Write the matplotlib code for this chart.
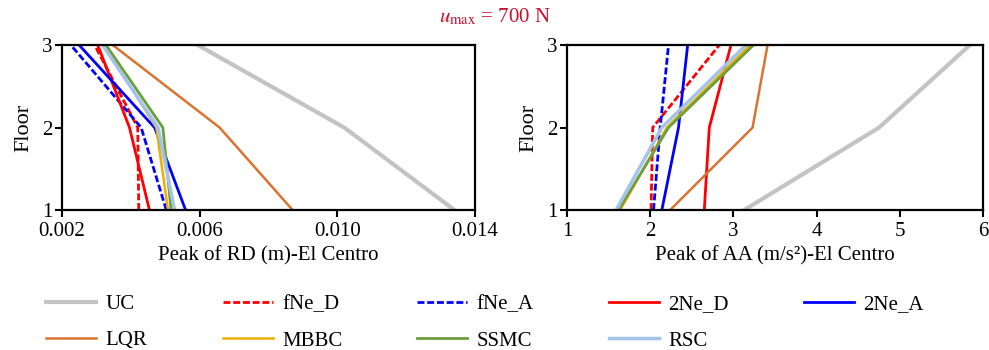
import numpy as np
import matplotlib
matplotlib.use('Agg')
import matplotlib.pyplot as plt

plt.rcParams['font.family'] = ['Liberation Serif', 'DejaVu Serif']
plt.rcParams['mathtext.fontset'] = 'stix'

floors = [1, 2, 3]
names = ['UC', 'fNe_D', 'fNe_A', '2Ne_D', '2Ne_A', 'LQR', 'MBBC', 'SSMC', 'RSC']

# peak relative displacement (m), floor 1..3
rd = {
    'UC':    [0.0134, 0.0102, 0.00595],
    'fNe_D': [0.00423, 0.0042, 0.00295],
    'fNe_A': [0.00503, 0.0043, 0.00226],
    '2Ne_D': [0.00454, 0.00396, 0.00304],
    '2Ne_A': [0.00559, 0.00469, 0.0025],
    'LQR':   [0.0087, 0.00658, 0.00348],
    'MBBC':  [0.00508, 0.00474, 0.00323],
    'SSMC':  [0.00517, 0.00493, 0.00328],
    'RSC':   [0.00527, 0.00479, 0.00318],
}
# peak absolute acceleration (m/s2), floor 1..3
aa = {
    'UC':    [3.13, 4.75, 5.84],
    'fNe_D': [2.01, 2.03, 2.83],
    'fNe_A': [2.04, 2.12, 2.22],
    '2Ne_D': [2.65, 2.71, 2.97],
    '2Ne_A': [2.14, 2.34, 2.45],
    'LQR':   [2.24, 3.23, 3.41],
    'MBBC':  [1.64, 2.20, 3.20],
    'SSMC':  [1.62, 2.22, 3.24],
    'RSC':   [1.59, 2.14, 3.15],
}

style = {
    'UC':    dict(color='#c3c3c3', lw=3.0, ls='-'),
    'fNe_D': dict(color='#ff0000', lw=2.0, ls=(0, (2.5, 1))),
    'fNe_A': dict(color='#0000ff', lw=2.0, ls=(0, (2.5, 1))),
    '2Ne_D': dict(color='#ff0000', lw=2.0, ls='-'),
    '2Ne_A': dict(color='#0000ff', lw=2.0, ls='-'),
    'LQR':   dict(color='#d9732e', lw=1.8, ls='-'),
    'MBBC':  dict(color='#eeae00', lw=1.8, ls='-'),
    'SSMC':  dict(color='#6a9f3c', lw=2.0, ls='-'),
    'RSC':   dict(color='#a3c4e8', lw=2.5, ls='-'),
}

fig = plt.figure(figsize=(9.89, 3.5), dpi=100)
ax1 = fig.add_axes([0.0627, 0.40, 0.4176, 0.471])
ax2 = fig.add_axes([0.5733, 0.40, 0.4207, 0.471])

handles = {}
for n in names:
    handles[n], = ax1.plot(rd[n], floors, label=n, **style[n])
    ax2.plot(aa[n], floors, **style[n])

ax1.set_xlim(0.002, 0.014)
ax1.set_xticks([0.002, 0.006, 0.010, 0.014])
ax1.set_xticklabels(['0.002', '0.006', '0.010', '0.014'])
ax1.set_xlabel('Peak of RD (m)-El Centro', fontsize=15, labelpad=3)
ax2.set_xlim(1, 6)
ax2.set_xticks([1, 2, 3, 4, 5, 6])
ax2.set_xlabel('Peak of AA (m/s²)-El Centro', fontsize=15, labelpad=3)

for ax in (ax1, ax2):
    ax.set_ylim(1, 3)
    ax.set_yticks([1, 2, 3])
    ax.set_ylabel('Floor', fontsize=16, labelpad=6)
    ax.tick_params(labelsize=15, width=1.5, length=5, direction='out')
    ax.tick_params(axis='x', pad=4)
    ax.tick_params(axis='y', pad=2)
    for s in ax.spines.values():
        s.set_linewidth(1.6)

fig.text(0.5, 0.953, r'$u_{\rm max}$ = 700 N', color='#c8102e', fontsize=15,
         ha='center', va='center')

order = ['UC', 'LQR', 'fNe_D', 'MBBC', 'fNe_A', 'SSMC', '2Ne_D', 'RSC', '2Ne_A']
fig.legend([handles[n] for n in order], order, ncol=5, loc='lower left',
           bbox_to_anchor=(0.028, -0.055, 0.925, 0.2), mode='expand', frameon=False,
           fontsize=15, handlelength=2.4, handletextpad=0.45, labelspacing=0.8)

fig.savefig('out.png', dpi=100)
